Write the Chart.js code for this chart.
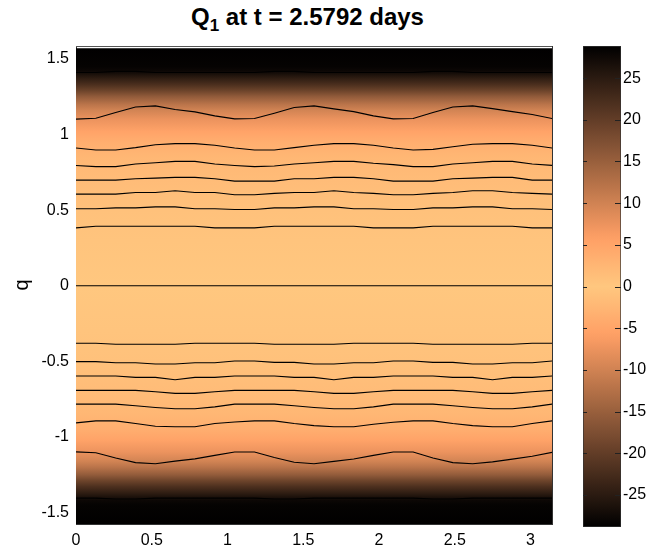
<!DOCTYPE html>
<html>
<head>
<meta charset="utf-8">
<title>Q1 at t = 2.5792 days</title>
<script src="https://cdn.jsdelivr.net/npm/chart.js"></script>
<style>
body { margin: 0; background: #fff; }
#wrap { position: relative; width: 649px; height: 552px; overflow: hidden; }
#titolo { position: absolute; left: 0; top: 5px; width: 615px; text-align: center;
  font: bold 24px "Liberation Sans", Arial, sans-serif; line-height: 24px; color: #000; }
#titolo sub { font-size: 17px; vertical-align: -6px; line-height: 0; }
canvas { position: absolute; top: 0; }
#grafico { left: 0; }
#barra { left: 583px; }
</style>
</head>
<body>
<div id="wrap">
  <div id="titolo">Q<sub>1</sub> at t = 2.5792 days</div>
  <canvas id="grafico" width="649" height="552"></canvas>
  <canvas id="barra" width="66" height="552"></canvas>
</div>
<script>
// punti lungo x dove sono state lette le curve di livello
var xs = [0, 0.131, 0.262, 0.393, 0.524, 0.654, 0.785, 0.916, 1.047, 1.178, 1.309, 1.440, 1.571,
          1.702, 1.833, 1.963, 2.094, 2.225, 2.356, 2.487, 2.618, 2.749, 2.880, 3.011, 3.142];

var xTicks = [0, 0.5, 1, 1.5, 2, 2.5, 3];
var yTicks = [-1.5, -1, -0.5, 0, 0.5, 1, 1.5];
var cbTicks = [-25, -20, -15, -10, -5, 0, 5, 10, 15, 20, 25];

// curve di livello, meta superiore
var p0 = [1.411, 1.411, 1.418, 1.418, 1.411, 1.411, 1.411, 1.411, 1.411, 1.411, 1.418, 1.418, 1.411,
          1.411, 1.411, 1.411, 1.411, 1.411, 1.418, 1.418, 1.411, 1.411, 1.411, 1.411, 1.411];
var p1 = [1.102, 1.108, 1.146, 1.183, 1.190, 1.166, 1.150, 1.124, 1.104, 1.106, 1.141, 1.179, 1.190,
          1.170, 1.152, 1.124, 1.104, 1.106, 1.146, 1.183, 1.190, 1.172, 1.152, 1.133, 1.106];
var p2 = [0.911, 0.898, 0.898, 0.914, 0.933, 0.940, 0.940, 0.929, 0.911, 0.898, 0.898, 0.914, 0.929,
          0.940, 0.940, 0.929, 0.911, 0.898, 0.902, 0.920, 0.936, 0.940, 0.940, 0.929, 0.911];
var p3 = [0.796, 0.788, 0.788, 0.805, 0.814, 0.823, 0.823, 0.805, 0.796, 0.788, 0.792, 0.805, 0.814,
          0.823, 0.823, 0.810, 0.801, 0.788, 0.788, 0.805, 0.814, 0.823, 0.823, 0.805, 0.796];
var p4 = [0.699, 0.699, 0.699, 0.708, 0.712, 0.717, 0.717, 0.708, 0.692, 0.692, 0.692, 0.708, 0.708,
          0.717, 0.717, 0.708, 0.692, 0.692, 0.692, 0.708, 0.712, 0.717, 0.717, 0.699, 0.699];
var p5 = [0.606, 0.606, 0.606, 0.617, 0.617, 0.628, 0.617, 0.617, 0.602, 0.602, 0.611, 0.617, 0.617,
          0.628, 0.617, 0.611, 0.602, 0.602, 0.611, 0.617, 0.628, 0.628, 0.617, 0.611, 0.606];
var p6 = [0.509, 0.509, 0.515, 0.515, 0.522, 0.522, 0.509, 0.509, 0.504, 0.504, 0.515, 0.515, 0.522,
          0.522, 0.509, 0.509, 0.504, 0.504, 0.515, 0.515, 0.522, 0.522, 0.509, 0.509, 0.504];
var p7 = [0.383, 0.394, 0.394, 0.394, 0.394, 0.394, 0.394, 0.383, 0.383, 0.383, 0.394, 0.394, 0.394,
          0.394, 0.394, 0.383, 0.383, 0.383, 0.394, 0.394, 0.394, 0.394, 0.394, 0.383, 0.383];
var zero = [0, 0, 0, 0, 0, 0, 0, 0, 0, 0, 0, 0, 0, 0, 0, 0, 0, 0, 0, 0, 0, 0, 0, 0, 0];

// curve di livello, meta inferiore
var n7 = [-0.380, -0.380, -0.387, -0.387, -0.387, -0.387, -0.380, -0.380, -0.380, -0.380, -0.387, -0.387, -0.387,
          -0.387, -0.380, -0.380, -0.380, -0.380, -0.387, -0.387, -0.387, -0.387, -0.387, -0.380, -0.380];
var n6 = [-0.502, -0.502, -0.509, -0.509, -0.518, -0.518, -0.509, -0.509, -0.498, -0.498, -0.507, -0.507, -0.518,
          -0.518, -0.509, -0.509, -0.498, -0.498, -0.507, -0.507, -0.518, -0.518, -0.509, -0.509, -0.498];
var n5 = [-0.597, -0.597, -0.597, -0.606, -0.606, -0.622, -0.606, -0.606, -0.597, -0.597, -0.597, -0.606, -0.606,
          -0.622, -0.606, -0.606, -0.597, -0.597, -0.597, -0.606, -0.606, -0.622, -0.606, -0.606, -0.597];
var n4 = [-0.692, -0.692, -0.692, -0.692, -0.701, -0.712, -0.712, -0.701, -0.692, -0.692, -0.692, -0.692, -0.701,
          -0.712, -0.712, -0.701, -0.692, -0.692, -0.692, -0.692, -0.701, -0.712, -0.712, -0.701, -0.692];
var n3 = [-0.783, -0.783, -0.783, -0.794, -0.805, -0.814, -0.814, -0.801, -0.783, -0.783, -0.783, -0.794, -0.805,
          -0.814, -0.814, -0.801, -0.783, -0.783, -0.783, -0.794, -0.805, -0.814, -0.814, -0.801, -0.783];
var n2 = [-0.907, -0.894, -0.894, -0.911, -0.929, -0.933, -0.933, -0.911, -0.901, -0.894, -0.894, -0.911, -0.925,
          -0.933, -0.933, -0.916, -0.903, -0.894, -0.894, -0.911, -0.925, -0.933, -0.933, -0.911, -0.894];
var n1 = [-1.099, -1.105, -1.140, -1.170, -1.177, -1.160, -1.145, -1.122, -1.100, -1.100, -1.136, -1.168, -1.177,
          -1.162, -1.146, -1.122, -1.100, -1.100, -1.140, -1.170, -1.177, -1.165, -1.147, -1.128, -1.102];
var n0 = [-1.405, -1.405, -1.411, -1.411, -1.405, -1.405, -1.405, -1.405, -1.405, -1.405, -1.411, -1.411, -1.405,
          -1.405, -1.405, -1.405, -1.405, -1.405, -1.411, -1.411, -1.405, -1.405, -1.405, -1.405, -1.405];

var qProfilo = [-1.571, -1.45, -1.42, -1.40, -1.37, -1.33, -1.29, -1.25, -1.20, -1.16, -1.10, -1.02, -0.95, -0.85,
                -0.70, -0.50, -0.30, 0, 0.30, 0.50, 0.70, 0.85, 0.95, 1.02, 1.10, 1.16, 1.20, 1.25, 1.29, 1.33,
                1.37, 1.40, 1.42, 1.45, 1.571];
var valProfilo = [-28.8, -28.4, -27.8, -26.5, -24.5, -22, -19, -15.5, -12, -9.8, -7.5, -5.3, -3.6, -2.4,
                  -1.6, -0.9, -0.4, 0, 0.4, 0.9, 1.6, 2.4, 3.6, 5.3, 7.5, 9.8, 12, 15.5, 19, 22,
                  24.5, 26.5, 27.8, 28.4, 28.8];

var cMax = 28.85;
var qTop = 1.5708;

Chart.defaults.font.family = '"Liberation Sans", Arial, sans-serif';
Chart.defaults.color = '#000';

// mappa colori tipo "copper", nero agli estremi
function rame(v) {
    var t = 1 - Math.min(Math.abs(v) / cMax, 1);
    var r = Math.round(Math.min(1, 1.25 * t) * 255);
    var g = Math.round(0.7812 * t * 255);
    var b = Math.round(0.4975 * t * 255);
    return 'rgb(' + r + ',' + g + ',' + b + ')';
}

function sfondo(context) {
    var chart = context.chart;
    var area = chart.chartArea;
    if (!area) return 'rgba(0,0,0,0)';
    var y = chart.scales.y;
    var g = chart.ctx.createLinearGradient(0, area.top, 0, area.bottom);
    for (var i = 0; i < qProfilo.length; i++) {
        var pos = (y.getPixelForValue(qProfilo[i]) - area.top) / (area.bottom - area.top);
        g.addColorStop(Math.max(0, Math.min(1, pos)), rame(valProfilo[i]));
    }
    return g;
}

function punti(arr) {
    return xs.map(function (x, i) { return { x: x, y: arr[i] }; });
}

function linea(arr) {
    return {
        data: punti(arr),
        borderColor: '#000',
        borderWidth: 1.1,
        pointRadius: 0,
        fill: false,
        tension: 0,
        order: 0
    };
}

var curve = [p0, p1, p2, p3, p4, p5, p6, p7, zero, n7, n6, n5, n4, n3, n2, n1, n0];
var datasets = [{
    data: [{ x: 0, y: qTop }, { x: 3.1416, y: qTop }],
    fill: 'start',
    backgroundColor: sfondo,
    borderWidth: 0,
    pointRadius: 0,
    order: 1
}];
curve.forEach(function (c) { datasets.push(linea(c)); });

function fissaTicks(valori) {
    return function (scale) {
        scale.ticks = valori.map(function (v) { return { value: v }; });
    };
}

new Chart(document.getElementById('grafico'), {
    type: 'line',
    data: { datasets: datasets },
    options: {
        responsive: false,
        animation: false,
        devicePixelRatio: 1,
        layout: { padding: { left: 0, right: 97, top: 46, bottom: 0 } },
        plugins: { legend: { display: false }, tooltip: { enabled: false } },
        scales: {
            x: {
                type: 'linear', min: 0, max: Math.PI,
                afterBuildTicks: fissaTicks(xTicks),
                afterFit: function (s) { s.height = 28; },
                ticks: { font: { size: 16 }, padding: 7, maxRotation: 0, callback: function (v) { return String(v); } },
                grid: { display: false, drawTicks: false },
                border: { display: true, color: '#333', width: 1 }
            },
            y: {
                type: 'linear', min: -1.576, max: 1.586,
                afterBuildTicks: fissaTicks(yTicks),
                afterFit: function (s) { s.width = 76; },
                ticks: { font: { size: 16 }, padding: 7, callback: function (v) { return String(v); } },
                title: { display: true, text: 'q', font: { size: 20 }, padding: { top: 10, bottom: 0 } },
                grid: { display: false, drawTicks: false },
                border: { display: true, color: '#333', width: 1 }
            },
            x2: {
                type: 'linear', position: 'top', min: 0, max: Math.PI,
                afterFit: function (s) { s.height = 0; },
                ticks: { display: false },
                grid: { display: false, drawTicks: false },
                border: { display: true, color: '#555', width: 1 }
            },
            y2: {
                type: 'linear', position: 'right', min: -1.576, max: 1.586,
                afterFit: function (s) { s.width = 0; },
                ticks: { display: false },
                grid: { display: false, drawTicks: false },
                border: { display: true, color: '#333', width: 1 }
            }
        }
    }
});

// barra dei colori
function gradBarra(context) {
    var chart = context.chart;
    var area = chart.chartArea;
    if (!area) return 'rgba(0,0,0,0)';
    var g = chart.ctx.createLinearGradient(0, area.bottom, 0, area.top);
    for (var k = 0; k <= 64; k++) {
        g.addColorStop(k / 64, rame(-cMax + 2 * cMax * k / 64));
    }
    return g;
}

var tacche = {
    id: 'tacche',
    afterDatasetsDraw: function (chart) {
        var ctx = chart.ctx, a = chart.chartArea, y = chart.scales.y;
        ctx.save();
        ctx.strokeStyle = '#222';
        ctx.lineWidth = 1;
        y.ticks.forEach(function (t) {
            var py = Math.round(y.getPixelForValue(t.value)) + 0.5;
            ctx.beginPath();
            ctx.moveTo(a.left, py); ctx.lineTo(a.left + 4, py);
            ctx.moveTo(a.right - 6, py); ctx.lineTo(a.right, py);
            ctx.stroke();
        });
        ctx.restore();
    }
};

new Chart(document.getElementById('barra'), {
    type: 'bar',
    data: {
        labels: ['Q'],
        datasets: [{
            data: [[-cMax, cMax]],
            backgroundColor: gradBarra,
            borderColor: '#333',
            borderWidth: 1,
            borderSkipped: false,
            barPercentage: 1,
            categoryPercentage: 1
        }]
    },
    options: {
        responsive: false,
        animation: false,
        devicePixelRatio: 1,
        layout: { padding: { left: 0, right: 0, top: 46, bottom: 25 } },
        plugins: { legend: { display: false }, tooltip: { enabled: false } },
        scales: {
            x: { display: false },
            y: {
                position: 'right', min: -cMax, max: cMax,
                afterBuildTicks: fissaTicks(cbTicks),
                afterFit: function (s) { s.width = 28; },
                ticks: { font: { size: 16 }, padding: 2, callback: function (v) { return String(v); } },
                grid: { display: false, drawTicks: false },
                border: { display: false }
            }
        }
    },
    plugins: [tacche]
});
</script>
</body>
</html>
